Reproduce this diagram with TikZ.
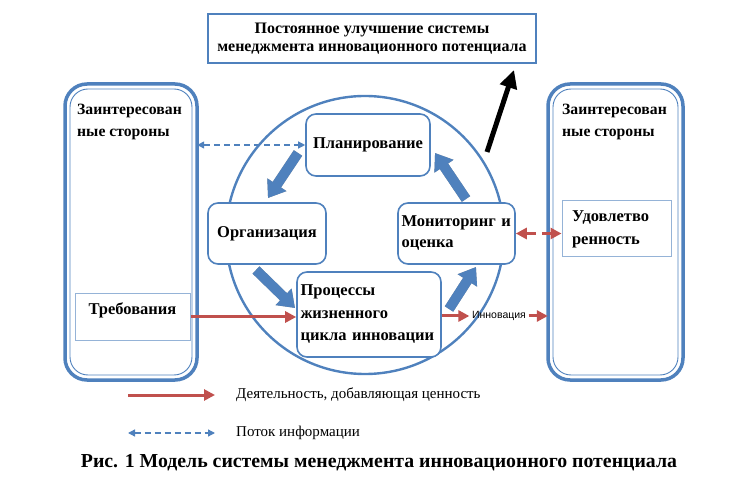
\documentclass[tikz,border=0pt]{standalone}
\usepackage{fontspec}
\setmainfont{Liberation Serif}
\newfontfamily\sansf{Liberation Sans}
\usetikzlibrary{arrows.meta}
\definecolor{oblue}{HTML}{4F81BD}
\definecolor{lblue}{HTML}{95B3D7}
\definecolor{ored}{HTML}{C0504D}
\definecolor{shadowgray}{HTML}{9A9A9A}
\tikzset{
  cyclebox/.style={draw=oblue, line width=1.6pt, rounded corners=10pt, fill=white,
    font=\fontsize{16.5}{21}\selectfont\bfseries, inner sep=3.5pt},
  thinbox/.style={draw=lblue, line width=1pt, fill=white},
  topbox/.style={draw=oblue, line width=2.2pt, fill=white, align=center,
    font=\fontsize{16}{18}\selectfont\bfseries},
  shouter/.style={draw=oblue, line width=3.5pt, rounded corners=22pt},
  shinner/.style={draw=oblue, line width=0.9pt, rounded corners=18pt},
  sttitle/.style={font=\fontsize{15.7}{22}\selectfont\bfseries, align=left, anchor=north west, inner sep=0pt},
  valarrow/.style={draw=ored, line width=3pt, -{Triangle[length=11pt,width=11pt]}},
  valdash/.style={draw=ored, line width=3.5pt, dash pattern=on 10pt off 6pt,
    {Triangle[length=11pt,width=11pt]}-{Triangle[length=11pt,width=11pt]}},
  infoarrow/.style={draw=oblue, line width=1.3pt, dash pattern=on 6pt off 4pt,
    {Triangle[length=7pt,width=7pt]}-{Triangle[length=7pt,width=7pt]}},
  blockarrow/.style={draw=oblue, line width=10pt, -{Triangle[length=16pt,width=22pt]}},
  blockshadow/.style={draw=shadowgray, line width=10pt, -{Triangle[length=16pt,width=22pt]}, shift={(1.8,1.8)}},
  legtext/.style={font=\fontsize{15}{17}\selectfont, anchor=west, inner sep=0pt},
}
\begin{document}
\begin{tikzpicture}[x=1pt,y=-1pt]
\useasboundingbox (0,0) rectangle (747,486);
% top box
\node[topbox, minimum width=328pt, minimum height=49pt] (top) at (372,38.5)
  {Постоянное улучшение системы\\менеджмента инновационного потенциала};
% black arrow
\coordinate (bk1) at (487,152);
\coordinate (bk2) at (514,70);
\draw[line width=5pt, -{Triangle[length=18pt,width=17pt]}] (bk1) -- (bk2);
% stakeholder boxes
\draw[shouter] (65,84) rectangle (197,380);
\draw[shinner] (70,89) rectangle (192,375);
\node[minimum width=132pt, minimum height=296pt, inner sep=0pt] (lsh) at (131,232) {};
\node[sttitle] (lt) at (77,104) {Заинтересован\\ные стороны};
\draw[shouter] (548,84) rectangle (683,380);
\draw[shinner] (553,89) rectangle (678,375);
\node[minimum width=135pt, minimum height=296pt, inner sep=0pt] (rsh) at (615.5,232) {};
\node[sttitle] (rt) at (562,104) {Заинтересован\\ные стороны};
% requirement box
\node[thinbox, minimum width=115pt, minimum height=46pt, inner sep=0pt] (treb) at (132.5,317) {};
\node[font=\fontsize{16.5}{18}\selectfont\bfseries, inner sep=0pt] (trebt) at (132.5,310) {Требования};
% satisfaction box
\node[thinbox, minimum width=109pt, minimum height=56pt, text width=89pt, align=left,
  font=\fontsize{16.5}{23}\selectfont\bfseries, inner xsep=10pt, inner ysep=4pt] (udov) at (616.5,229) {Удовлетво\\ренность};
% circle
\draw[oblue, line width=2.4pt] (365,235) circle (139);
% cycle boxes
\node[cyclebox, minimum width=124pt, minimum height=62pt] (plan) at (368,145) {Планирование};
\node[cyclebox, minimum width=118pt, minimum height=61pt] (org) at (267,233.5) {Организация};
\node[cyclebox, minimum width=117pt, minimum height=61pt, text width=110pt, align=left] (mon) at (456.5,233.5) {Мониторинг и\\оценка};
\node[cyclebox, minimum width=144pt, minimum height=85pt, text width=137pt, align=left,
  font=\fontsize{16.5}{22.5}\selectfont\bfseries] (proc) at (369,314.5) {Процессы\\жизненного\\цикла инновации};
% block arrows
\coordinate (a1s) at (298,153); \coordinate (a1e) at (268,198);
\coordinate (a2s) at (256,270); \coordinate (a2e) at (295,308);
\coordinate (a3s) at (449,309); \coordinate (a3e) at (476,267);
\coordinate (a4s) at (466,199); \coordinate (a4e) at (435,153);
\foreach \s/\e in {a1s/a1e,a2s/a2e,a3s/a3e,a4s/a4e}{
  \draw[blockshadow] (\s) -- (\e);
  \draw[blockarrow] (\s) -- (\e);
}
% info dashed arrow
\draw[infoarrow] (lsh.east |- plan.west) -- (plan.west);
% red dashed
\draw[valdash] (mon.east) -- (mon.east -| udov.west);
% red requirement arrow
\draw[valarrow] (treb.east) -- (proc.west |- treb.east);
% innovation
\node[font=\sansf\fontsize{10.5}{11}\selectfont, inner sep=2.5pt] (innov) at (499,316) {Инновация};
\draw[valarrow] (proc.east |- innov.west) -- (innov.west);
\draw[valarrow] (innov.east) -- (rsh.west |- innov.east);
% legend
\coordinate (l1a) at (128,395); \coordinate (l1b) at (215,395);
\coordinate (l2a) at (128,433); \coordinate (l2b) at (215,433);
\draw[valarrow] (l1a) -- (l1b);
\draw[infoarrow] (l2a) -- (l2b);
\node[legtext] (lt1) at (236,395) {Деятельность, добавляющая ценность};
\node[legtext] (lt2) at (236,433) {Поток информации};
% caption
\node[font=\fontsize{19.8}{22}\selectfont\bfseries, inner sep=0pt] (cap) at (379,463)
  {Рис. 1 Модель системы менеджмента инновационного потенциала};
\end{tikzpicture}
\end{document}
